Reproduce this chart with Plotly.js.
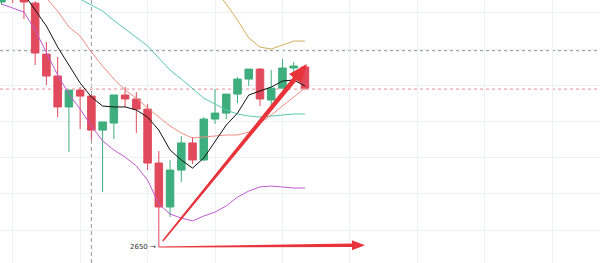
<!DOCTYPE html>
<html>
<head>
<meta charset="utf-8">
<script src="https://cdn.plot.ly/plotly-3.0.1.min.js"></script>
<style>html,body{margin:0;padding:0;background:#fff;}#chart{width:600px;height:263px;}</style>
</head>
<body>
<div id="chart"></div>
<script>
// ---- data ----
const idx = [0,1,2,3,4,5,6,7,8,9,10,11,12,13,14,15,16,17,18,19,20,21,22,23,24,25,26,27];
const openP  = [2785.4,2803.0,2790.9,2784.8,2756.6,2744.5,2727.4,2736.7,2733.4,2714.6,2718.5,2734.0,2731.8,2726.2,2696.4,2672.1,2692.5,2707.5,2698.1,2720.7,2724.0,2734.5,2742.8,2748.3,2731.2,2737.8,2748.9,2749.5];
const highP  = [2794.8,2808.6,2794.8,2785.9,2763.3,2755.0,2736.7,2738.4,2734.0,2719.1,2734.0,2738.4,2735.6,2729.0,2703.0,2698.1,2711.3,2710.8,2721.8,2737.3,2734.5,2743.9,2748.3,2748.9,2747.8,2753.9,2752.2,2750.6];
const lowP   = [2783.7,2784.8,2776.0,2750.6,2739.5,2721.8,2702.5,2715.2,2709.1,2680.4,2709.7,2727.4,2713.0,2692.5,2650.0,2666.6,2685.9,2695.9,2697.5,2718.0,2720.7,2729.6,2739.0,2727.9,2728.5,2737.8,2746.7,2736.7];
const closeP = [2792.0,2789.2,2785.4,2757.2,2744.5,2727.4,2736.7,2733.4,2714.6,2719.1,2734.0,2731.8,2726.2,2696.4,2672.1,2692.5,2707.5,2698.1,2720.7,2724.0,2734.5,2742.8,2748.3,2731.8,2737.8,2748.9,2750.0,2737.8];

const blackIdx = [2,3,4,5,6,7,8,9,10,11,12,13,14,15,16,17,18,19,20,21,22,23,24,25,26,27];
const blackMA  = [2789.8,2780.9,2772.1,2760.5,2750.6,2740.6,2732.9,2727.9,2727.4,2727.4,2725.7,2721.8,2714.6,2703.6,2698.1,2693.6,2699.2,2708.0,2717.4,2724.0,2734.0,2736.2,2738.4,2741.7,2742.3,2739.0];

const pinkIdx = [3,4,5,6,7,8,9,10,11,12,13,14,15,16,17,18,19,20,21,22,23,24,25,26,27];
const pinkMA  = [2793.7,2787.6,2780.4,2771.6,2766.6,2757.7,2750.0,2742.8,2736.7,2732.3,2726.8,2721.8,2716.9,2713.0,2710.2,2710.8,2711.3,2711.9,2711.9,2713.5,2718.5,2722.9,2727.9,2732.9,2737.8];

const tealIdx = [7,8,9,10,11,12,13,14,15,16,17,18,19,20,21,22,23,24,25,26,27];
const tealMA  = [2787.0,2783.7,2780.4,2775.2,2770.4,2766.0,2761.1,2754.4,2747.8,2742.8,2737.3,2732.3,2729.0,2725.7,2723.5,2722.4,2721.8,2722.4,2722.9,2723.5,2723.5];

const goldIdx = [19,20,21,22,23,24,25,26,27];
const goldMA  = [2792.0,2784.3,2775.4,2765.5,2760.5,2759.4,2761.6,2763.8,2763.8];

const purpleIdx = [0,1,2,3,4,5,6,7,8,9,10,11,12,13,14,15,16,17,18,19,20,21,22,23,24,25,26,27];
const purpleMA  = [2784.3,2782.0,2779.8,2769.9,2757.7,2745.0,2734.5,2726.2,2716.9,2708.6,2703.6,2699.7,2694.8,2687.0,2673.8,2668.2,2666.0,2664.4,2667.1,2669.3,2672.7,2677.6,2680.9,2683.2,2683.7,2683.2,2682.6,2682.6];

const levelGray = 2758.5;
const levelPink = 2737.3;
const lowLabel = "2650 →";

// ---- layout constants ----
const W = 600, H = 263;
const xr = [-0.13, 53.25];
const yr = [2641.16, 2786.5];

const RED = '#e04a5c', GREEN = '#3fae7e', ARROW = '#e8333a';

function px(x){ return (x - xr[0]) / (xr[1]-xr[0]) * W; }
function py(y){ return H - (y - yr[0]) / (yr[1]-yr[0]) * H; }
function dx(p){ return xr[0] + p / W * (xr[1]-xr[0]); }
function dy(p){ return yr[0] + (H - p) / H * (yr[1]-yr[0]); }

// tapered arrow polygon, endpoints in data coords
function arrowPath(x0,y0,x1,y1,w0,w1,wh,hl){
  const a=[px(x0),py(y0)], b=[px(x1),py(y1)];
  const L=Math.hypot(b[0]-a[0],b[1]-a[1]);
  const u=[(b[0]-a[0])/L,(b[1]-a[1])/L], n=[-u[1],u[0]];
  const B=[b[0]-u[0]*hl,b[1]-u[1]*hl];
  const pts=[
    [a[0]+n[0]*w0/2,a[1]+n[1]*w0/2],
    [B[0]+n[0]*w1/2,B[1]+n[1]*w1/2],
    [B[0]+n[0]*wh/2,B[1]+n[1]*wh/2],
    b,
    [B[0]-n[0]*wh/2,B[1]-n[1]*wh/2],
    [B[0]-n[0]*w1/2,B[1]-n[1]*w1/2],
    [a[0]-n[0]*w0/2,a[1]-n[1]*w0/2]
  ];
  return 'M'+pts.map(p=>dx(p[0]).toFixed(4)+','+dy(p[1]).toFixed(3)).join(' L')+' Z';
}

const line = (x,y,color) => ({type:'scatter',mode:'lines',x:x,y:y,line:{color:color,width:1},hoverinfo:'skip',showlegend:false});

const traces = [
  line(purpleIdx,purpleMA,'#c05ad2'),
  line(goldIdx,goldMA,'#d6ae5c'),
  line(tealIdx,tealMA,'#5cc8b2'),
  line(pinkIdx,pinkMA,'#f28d84'),
  {
    type:'candlestick', x:idx, open:openP, high:highP, low:lowP, close:closeP,
    increasing:{line:{color:GREEN,width:1},fillcolor:GREEN},
    decreasing:{line:{color:RED,width:1},fillcolor:RED},
    whiskerwidth:0, showlegend:false, hoverinfo:'skip'
  },
  line(blackIdx,blackMA,'#111111')
];

const startX = idx[14], startY = lowP[14];
const layout = {
  width:W, height:H,
  margin:{l:0,r:0,t:0,b:0},
  paper_bgcolor:'#ffffff', plot_bgcolor:'#ffffff',
  showlegend:false,
  boxgap:0.33, boxgroupgap:0,
  xaxis:{range:xr, showticklabels:false, showgrid:true, gridcolor:'#eff2f5', gridwidth:1,
         tick0:1, dtick:6, zeroline:false, showline:false, ticks:'', rangeslider:{visible:false}, fixedrange:true},
  yaxis:{range:yr, showticklabels:false, showgrid:true, gridcolor:'#eff2f5', gridwidth:1,
         tick0:2659.39, dtick:20, zeroline:false, showline:false, ticks:'', fixedrange:true},
  shapes:[
    {type:'line',xref:'paper',x0:0,x1:1,yref:'y',y0:levelGray,y1:levelGray,line:{color:'#a6a6a6',width:1.2,dash:'3px,3px'},layer:'below'},
    {type:'line',xref:'paper',x0:0,x1:1,yref:'y',y0:levelPink,y1:levelPink,line:{color:'#f0a2aa',width:1.2,dash:'3px,3px'},layer:'below'},
    {type:'line',xref:'x',x0:idx[8],x1:idx[8],yref:'paper',y0:0,y1:1,line:{color:'#999999',width:1,dash:'4px,3px'},layer:'below'},
    {type:'path',xref:'x',yref:'y',path:arrowPath(startX+0.02,startY,32.34,2651.0,0.8,3.6,10,13),fillcolor:ARROW,line:{width:0},layer:'above'},
    {type:'path',xref:'x',yref:'y',path:arrowPath(startX+0.35,startY+3.3,27.18,2751.1,1.5,5,15,19),fillcolor:ARROW,line:{width:0},layer:'above'}
  ],
  annotations:[
    {x:startX, y:startY, xref:'x', yref:'y', text:lowLabel, showarrow:false, xanchor:'right', yanchor:'middle',
     xshift:-1, font:{family:'DejaVu Sans, sans-serif', size:7, color:'#333333'}}
  ]
};

Plotly.newPlot('chart', traces, layout, {staticPlot:true, displayModeBar:false});
</script>
</body>
</html>
